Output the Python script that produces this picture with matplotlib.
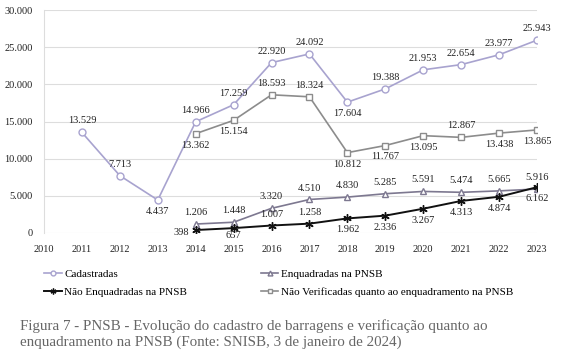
import numpy as np
import matplotlib.pyplot as plt

plt.rcParams['font.family'] = ['Liberation Serif', 'DejaVu Serif']

years = list(range(2010, 2024))
cad_years = list(range(2011, 2024))
cadastradas = [13529, 7713, 4437, 14966, 17259, 22920, 24092, 17604, 19388, 21953, 22654, 23977, 25943]
sub_years = list(range(2014, 2024))
enquadradas = [1206, 1448, 3320, 4510, 4830, 5285, 5591, 5474, 5665, 5916]
nao_enquadradas = [398, 657, 1007, 1258, 1962, 2336, 3267, 4313, 4874, 6162]
nao_verificadas = [13362, 15154, 18593, 18324, 10812, 11767, 13095, 12867, 13438, 13865]

# label placement: 1 above, -1 below, 0 left
cad_pos = [1, 1, -1, 1, 1, 1, 1, -1, 1, 1, 1, 1, 1]
enq_pos = [1] * 10
nenq_pos = [0, -1, 1, 1, -1, -1, -1, -1, -1, -1]
nver_pos = [-1, -1, 1, 1, -1, -1, -1, 1, -1, -1]

c_cad = '#a8a3cf'
c_enq = '#7d7890'
c_nenq = '#111111'
c_nver = '#8c8c8c'


def fmt(v):
    return f"{v:,}".replace(",", ".")


fig = plt.figure(figsize=(5.67, 3.52), dpi=100)
ax = fig.add_axes([44 / 567, (352 - 233) / 352, (537 - 44) / 567, 223 / 352])

ax.plot(cad_years, cadastradas, color=c_cad, lw=1.2, marker='o', ms=5,
        mfc='white', mec=c_cad, label='Cadastradas')
ax.plot(sub_years, enquadradas, color=c_enq, lw=1.2, marker='^', ms=5,
        mfc='white', mec=c_enq, label='Enquadradas na PNSB')
ax.plot(sub_years, nao_enquadradas, color=c_nenq, lw=1.4, marker=(6, 2, 0), ms=6,
        mec=c_nenq, label='Não Enquadradas na PNSB')
ax.plot(sub_years, nao_verificadas, color=c_nver, lw=1.2, marker='s', ms=5,
        mfc='white', mec=c_nver, label='Não Verificadas quanto ao enquadramento na PNSB')


def put_labels(xs, ys, pos):
    for x, y, p in zip(xs, ys, pos):
        if p == 1:
            ax.annotate(fmt(y), (x, y), xytext=(0, 5), textcoords='offset points',
                        ha='center', va='bottom', fontsize=7.5, color='#222222')
        elif p == -1:
            off = -2 if y < 1000 else -5
            ax.annotate(fmt(y), (x, y), xytext=(0, off), textcoords='offset points',
                        ha='center', va='top', fontsize=7.5, color='#222222')
        else:
            ax.annotate(fmt(y), (x, y), xytext=(-5, -2), textcoords='offset points',
                        ha='right', va='center', fontsize=7.5, color='#222222')


put_labels(cad_years, cadastradas, cad_pos)
put_labels(sub_years, enquadradas, enq_pos)
put_labels(sub_years, nao_enquadradas, nenq_pos)
put_labels(sub_years, nao_verificadas, nver_pos)

ax.set_xlim(2010, 2023)
ax.set_ylim(0, 30000)
ax.set_xticks(years)
ax.set_yticks(np.arange(0, 30001, 5000))
ax.set_yticklabels([fmt(v) for v in range(0, 30001, 5000)])
ax.grid(axis='y', color='#dddddd', lw=0.8)
ax.set_axisbelow(True)
for s in ['top', 'right', 'bottom']:
    ax.spines[s].set_visible(False)
ax.spines['left'].set_color('#dddddd')
ax.tick_params(length=0, labelsize=7.5, colors='#222222')
ax.tick_params(axis='x', pad=9)
ax.tick_params(axis='y', pad=8)

handles, labels = ax.get_legend_handles_labels()
order = [0, 2, 1, 3]
fig.legend([handles[i] for i in order], [labels[i] for i in order], ncol=2,
           loc='upper left', bbox_to_anchor=(40 / 567, 1 - 265 / 352), frameon=False,
           fontsize=8, handlelength=1.6, handletextpad=0.2, columnspacing=6.6,
           labelspacing=0.75, markerscale=0.7, borderaxespad=0)

fig.text(20 / 567, 1 - 334 / 352,
         'Figura 7 - PNSB - Evolução do cadastro de barragens e verificação quanto ao\n'
         'enquadramento na PNSB (Fonte: SNISB, 3 de janeiro de 2024)',
         fontsize=10.8, color='#666666', va='center', ha='left', linespacing=1.2)

fig.savefig('out.png', dpi=100)
